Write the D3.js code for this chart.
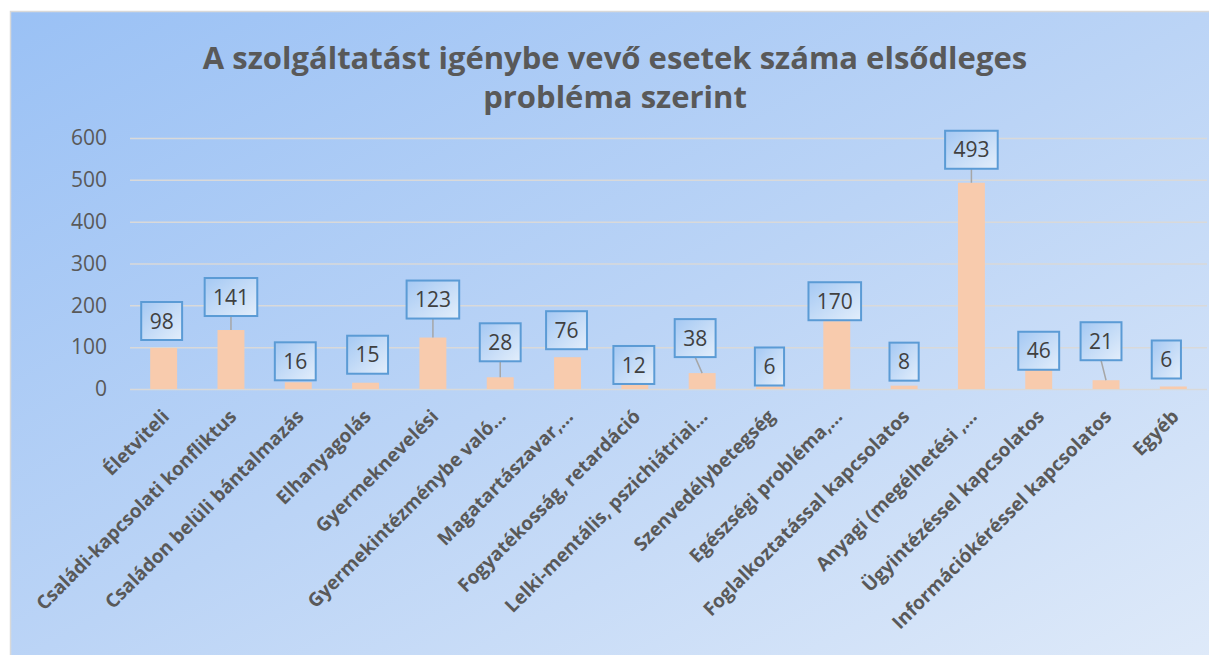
<!DOCTYPE html>
<html>
<head>
<meta charset="utf-8">
<script src="https://cdn.jsdelivr.net/npm/d3@7"></script>
<style>
    body { margin: 0; background: #ffffff; }
    svg { display: block; font-family: 'Open Sans', sans-serif; }
</style>
</head>
<body>
<div id="chart"></div>
<script>
//Datos
const categories = ['Életviteli', 'Családi-kapcsolati konfliktus', 'Családon belüli bántalmazás', 'Elhanyagolás',
    'Gyermeknevelési', 'Gyermekintézménybe való…', 'Magatartászavar,…', 'Fogyatékosság, retardáció',
    'Lelki-mentális, pszichiátriai…', 'Szenvedélybetegség', 'Egészségi probléma,…', 'Foglalkoztatással kapcsolatos',
    'Anyagi (megélhetési ,…', 'Ügyintézéssel kapcsolatos', 'Információkéréssel kapcsolatos', 'Egyéb'];
const values = [98, 141, 16, 15, 123, 28, 76, 12, 38, 6, 162, 8, 493, 46, 21, 6];
const valueLabels = ['98', '141', '16', '15', '123', '28', '76', '12', '38', '6', '170', '8', '493', '46', '21', '6'];
const yTicks = [0, 100, 200, 300, 400, 500, 600];
const titleLines = ['A szolgáltatást igénybe vevő esetek száma elsődleges', 'probléma szerint'];

//Desplazamiento manual de las etiquetas (px): [dx, hueco sobre la barra]
const labelShift = [[-2, 8], [0, 14], [-3, 2], [2, 9], [0, 19], [0, 16], [-1, 8], [-1, 0],
    [-7, 16], [0, 1], [-2, 1], [0, 5], [0, 14], [0, 0], [-5, 20], [-7, 8]];

//Colores fijos
const COLOR_BAR = '#F8CBAD',
COLOR_GRID = '#D9D9D9',
COLOR_TEXT = '#595959',
COLOR_LABEL = '#404040',
COLOR_BOX = '#5B9BD5';

let W = 1209, H = 655;
let margin = {top: 138, right: 2, bottom: 266, left: 130};

let svg = d3.select('#chart')
    .append('svg')
        .attr('width', W)
        .attr('height', H);

let defs = svg.append('defs');

let bg = defs.append('linearGradient')
    .attr('id', 'bg')
    .attr('x1', '0').attr('y1', '0').attr('x2', '1').attr('y2', '1');
bg.append('stop').attr('offset', '0').attr('stop-color', '#9AC1F5');
bg.append('stop').attr('offset', '0.5').attr('stop-color', '#BBD4F6');
bg.append('stop').attr('offset', '1').attr('stop-color', '#DFEAF9');

let boxGrad = defs.append('linearGradient')
    .attr('id', 'box')
    .attr('x1', '0').attr('y1', '0').attr('x2', '1').attr('y2', '1');
boxGrad.append('stop').attr('offset', '0').attr('stop-color', '#A4C8F3');
boxGrad.append('stop').attr('offset', '1').attr('stop-color', '#E3EEFB');

//Fondo del gráfico
svg.append('rect')
    .attr('x', 10.5)
    .attr('y', 11.5)
    .attr('width', W)
    .attr('height', H)
    .attr('fill', 'url(#bg)')
    .attr('stroke', COLOR_GRID)
    .attr('stroke-width', 1.5);

//Título
svg.append('g')
    .selectAll('text')
    .data(titleLines)
    .enter()
    .append('text')
    .attr('x', 615)
    .attr('y', function(d, i) { return 69 + i * 39; })
    .attr('text-anchor', 'middle')
    .attr('fill', COLOR_TEXT)
    .style('font-size', '31px')
    .style('font-weight', '700')
    .text(function(d) { return d; });

let x = d3.scaleBand()
    .domain(categories)
    .range([margin.left, W - margin.right])
    .paddingInner(0.6)
    .paddingOuter(0.3);

let y = d3.scaleLinear()
    .domain([0, 600])
    .range([H - margin.bottom, margin.top]);

//Eje Y
let yAxis = function(g) {
    g.call(d3.axisLeft(y).tickValues(yTicks).tickSize(-(W - margin.right - margin.left)).tickPadding(23));
    g.call(function(g) { g.select('.domain').remove(); });
    g.call(function(g) {
        g.selectAll('.tick line')
            .attr('stroke', COLOR_GRID)
            .attr('stroke-width', 1.5);
    });
    g.call(function(g) {
        g.selectAll('.tick text')
            .attr('fill', COLOR_TEXT)
            .style('font-size', '21px')
            .style('font-family', "'Open Sans', sans-serif");
    });
}

svg.append('g')
    .attr('transform', 'translate(' + margin.left + ',0)')
    .call(yAxis);

//Eje X
let xAxis = function(g) {
    g.call(d3.axisBottom(x).tickSize(0).tickPadding(0));
    g.call(function(g) { g.select('.domain').remove(); });
    g.call(function(g) {
        g.selectAll('.tick text')
            .attr('fill', COLOR_TEXT)
            .attr('text-anchor', 'end')
            .attr('y', 0)
            .attr('dy', '0.35em')
            .attr('transform', 'translate(2,24) rotate(-45)')
            .style('font-size', '19px')
            .style('font-weight', '700')
            .style('font-family', "'Open Sans', sans-serif");
    });
}

svg.append('g')
    .attr('transform', 'translate(0,' + (H - margin.bottom) + ')')
    .call(xAxis);

//Barras
svg.append('g')
    .selectAll('rect')
    .data(values)
    .enter()
    .append('rect')
    .attr('x', function(d, i) { return x(categories[i]); })
    .attr('width', x.bandwidth())
    .attr('y', function(d) { return y(d); })
    .attr('height', function(d) { return y(0) - y(d); })
    .attr('fill', COLOR_BAR);

//Etiquetas de datos
let boxH = 38;
let labels = svg.append('g')
    .selectAll('g')
    .data(values)
    .enter()
    .append('g')
    .attr('transform', function(d, i) {
        let cx = x(categories[i]) + x.bandwidth() / 2 + labelShift[i][0];
        let by = y(d) - labelShift[i][1];
        return 'translate(' + cx + ',' + by + ')';
    });

//Líneas guía
labels.append('line')
    .attr('x1', 0)
    .attr('y1', 0)
    .attr('x2', function(d, i) { return -labelShift[i][0]; })
    .attr('y2', function(d, i) { return labelShift[i][1]; })
    .attr('stroke', '#A6A6A6')
    .attr('stroke-width', 1.5)
    .style('display', function(d, i) { return labelShift[i][1] > 10 ? null : 'none'; });

labels.append('rect')
    .attr('x', function(d, i) { return -(valueLabels[i].length * 11.7 + 17.5) / 2; })
    .attr('y', -boxH)
    .attr('width', function(d, i) { return valueLabels[i].length * 11.7 + 17.5; })
    .attr('height', boxH)
    .attr('fill', 'url(#box)')
    .attr('stroke', COLOR_BOX)
    .attr('stroke-width', 2);

labels.append('text')
    .attr('x', 0)
    .attr('y', -boxH / 2)
    .attr('dy', '0.36em')
    .attr('text-anchor', 'middle')
    .attr('fill', COLOR_LABEL)
    .style('font-size', '21px')
    .text(function(d, i) { return valueLabels[i]; });
</script>
</body>
</html>
